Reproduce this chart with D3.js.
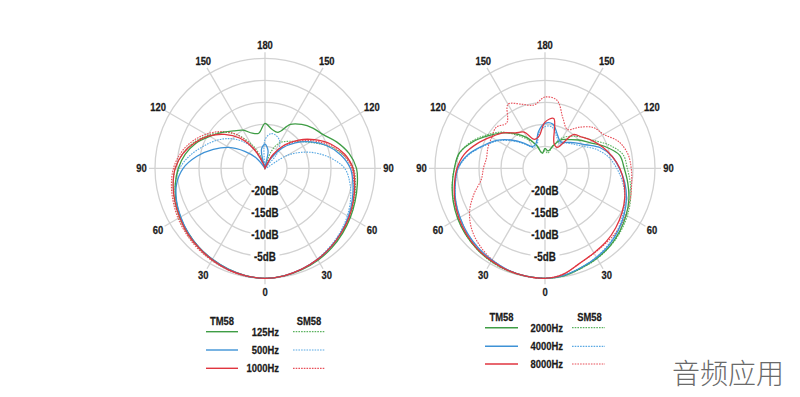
<!DOCTYPE html>
<html><head><meta charset="utf-8">
<script src="https://cdn.jsdelivr.net/npm/d3@7"></script>
<style>body{margin:0;background:#fff}svg{display:block}</style>
</head><body><svg id="c" width="800" height="397"></svg>
<script>
// ---- data ----
const angles = [0,10,20,30,40,50,60,70,80,90,100,110,120,130,140,150,160,170,180,190,200,210,220,230,240,250,260,270,280,290,300,310,320,330,340,350];
const ringDb = [-20,-15,-10,-5,0];
const ringLabels = ["-20dB","-15dB","-10dB","-5dB"];
const spokeAngles = [0,30,60,90,120,150,180,210,240,270,300,330];
const spokeLabels = ["0","30","60","90","120","150","180","150","120","90","60","30"];
const leftFreqs = ["125Hz","500Hz","1000Hz"];
const rightFreqs = ["2000Hz","4000Hz","8000Hz"];
const mics = ["TM58","SM58"];

// left chart (dB at each angle)
const tm58_125 = [0,-0.2,-0.5,-0.9,-1.4,-2.0,-2.6,-3.2,-3.7,-4.2,-5.6,-7.6,-9.7,-10.8,-12.0,-13.5,-16.3,-16.0,-14.8,-16.9,-16.5,-15.0,-13.9,-12.3,-10.5,-8.3,-6.6,-5.3,-4.3,-3.5,-2.8,-2.2,-1.6,-1.1,-0.6,-0.2];
const tm58_500 = [0,-0.2,-0.6,-1.1,-1.7,-2.4,-3.1,-3.9,-4.7,-5.6,-7.5,-10,-13,-16,-19,-22.5,-25,-21,-19.5,-20.5,-25,-25,-22,-19,-15.5,-12.5,-9.3,-6.4,-4.6,-3.6,-2.9,-2.2,-1.6,-1.1,-0.6,-0.2];
const tm58_1000 = [0,-0.2,-0.6,-1.1,-1.7,-2.3,-2.9,-3.6,-4.3,-5.0,-6.6,-9.0,-12.0,-15.0,-18.0,-21.5,-25,-25,-25,-25,-24,-20,-16,-13,-10.3,-8.0,-6.0,-4.6,-3.8,-3.2,-2.6,-2.0,-1.5,-1.0,-0.5,-0.2];
const sm58_125 = [0,-0.2,-0.6,-1.1,-1.6,-2.2,-2.8,-3.4,-4.1,-4.9,-7.0,-10.0,-13.2,-15.5,-17.0,-18.3,-21,-25,-25,-25,-22,-18.5,-15,-12.3,-10,-7.8,-6,-4.6,-3.8,-3.1,-2.5,-1.9,-1.4,-0.9,-0.5,-0.2];
const sm58_500 = [0,-0.2,-0.6,-1.2,-1.9,-2.6,-3.4,-4.3,-5.4,-6.9,-10.3,-14.3,-19,-25,-21,-18.2,-17.2,-17.0,-18.5,-25,-25,-20,-17,-14.5,-12.3,-10.2,-7.8,-5.6,-4.3,-3.5,-2.8,-2.2,-1.6,-1.0,-0.5,-0.2];
const sm58_1000 = [0,-0.2,-0.6,-1.1,-1.7,-2.3,-3.0,-3.7,-4.5,-5.3,-7.0,-9.5,-12.5,-15.5,-18.5,-22,-25,-25,-25,-25,-23,-19.5,-15.0,-12.0,-9.5,-7.3,-5.5,-4.2,-3.4,-2.8,-2.2,-1.7,-1.2,-0.8,-0.4,-0.1];

// right chart
const tm58_2000 = [0,-0.2,-0.9,-1.4,-2.0,-2.8,-3.7,-4.7,-5.9,-7.0,-7.8,-10.5,-13.3,-15.0,-16.5,-17.5,-19.5,-21,-20.5,-21.5,-19.5,-17,-14.8,-12.5,-10.2,-7.5,-5.2,-4.4,-3.6,-2.8,-2.1,-1.5,-1.0,-0.6,-0.3,-0.1];
const tm58_4000 = [0,-0.3,-1.0,-1.6,-2.3,-3.2,-4.2,-5.3,-6.6,-8.1,-9.5,-11.5,-14.3,-16.0,-17.3,-18.0,-16.8,-14.8,-14.8,-16.5,-19.0,-19.3,-17.5,-15.0,-12.3,-10.0,-7.2,-5.2,-4.3,-3.4,-2.7,-2.0,-1.4,-0.9,-0.4,-0.1];
const tm58_8000 = [0,-0.6,-2.0,-2.8,-3.3,-4.0,-4.8,-5.7,-6.8,-8.0,-9.5,-11.0,-12.5,-14.0,-15.0,-19.5,-19.0,-13.5,-14.5,-17.5,-18.0,-15.5,-14.5,-12.5,-10.8,-8.6,-6.4,-5.0,-4.1,-3.2,-2.4,-1.7,-1.1,-0.7,-0.3,-0.1];
const sm58_2000 = [0,-0.2,-0.8,-1.3,-1.9,-2.6,-3.4,-4.3,-5.3,-6.3,-7.0,-9.5,-12.3,-14.0,-15.5,-17.0,-19.5,-21.5,-21,-21.5,-19.5,-17.5,-15.2,-12.2,-9.8,-7.2,-5.3,-4.4,-3.6,-2.9,-2.2,-1.5,-1.0,-0.5,-0.2,-0.1];
const sm58_4000 = [0,-0.3,-1.0,-1.7,-2.5,-3.4,-4.5,-5.7,-7.1,-8.7,-10.3,-12.5,-15.0,-16.5,-17.5,-18.5,-17.3,-15.5,-15.5,-17.0,-19.5,-19.5,-17.8,-15.3,-12.6,-10.2,-7.4,-5.3,-4.3,-3.4,-2.7,-2.0,-1.4,-0.9,-0.4,-0.1];
const sm58_8000 = [0,-0.6,-2.0,-2.7,-3.1,-3.3,-3.8,-4.4,-5.0,-5.4,-5.9,-7.2,-9.6,-10.6,-12.8,-14.8,-13.0,-9.3,-8.8,-10.4,-9.5,-8.2,-11.5,-10.5,-11.0,-11.2,-11.5,-11.0,-10.3,-7.8,-5.2,-3.3,-2.0,-1.0,-0.4,-0.1];

const colors = ["#3f9d45","#3e92d6","#e0353f"];
const dotColors = ["#5bb25f","#5aa9e3","#e8505a"];

// ---- drawing ----
const svg = d3.select("#c");
const rScale = d3.scaleLinear().domain([-25,0]).range([0,110]).clamp(true);
const rad = a => a*Math.PI/180;
const polar = (r,a) => [r*Math.sin(rad(a)), r*Math.cos(rad(a))];
const fontNum = "'Liberation Sans',Arial,sans-serif";
const SX = 0.82;

function label(sel, x, y, str, size, anchor, dy) {
  return sel.append("text")
    .attr("transform", `translate(${x},${y}) scale(${SX},1)`)
    .attr("text-anchor", anchor).attr("dy", dy || 0)
    .attr("font-family", fontNum).attr("font-weight", "bold").attr("font-size", size)
    .attr("fill", "#1a1a1a").attr("stroke", "#1a1a1a").attr("stroke-width", 0.25).text(str);
}

const charts = [
  {cx:265, cy:168.3, freqs:leftFreqs, tm:[tm58_125,tm58_500,tm58_1000], sm:[sm58_125,sm58_500,sm58_1000],
   leg:{tmx:222, smx:309, head:325, lines:[331.7,350,368.3], l1:[206,238], l2:[293,325], tx:279}},
  {cx:545, cy:168.3, freqs:rightFreqs, tm:[tm58_2000,tm58_4000,tm58_8000], sm:[sm58_2000,sm58_4000,sm58_8000],
   leg:{tmx:501.5, smx:589.5, head:320.7, lines:[327.7,346.3,364], l1:[485,518], l2:[572,605], tx:563}}
];

const line = d3.lineRadial()
  .angle((d,i) => Math.PI - rad(angles[i]))
  .radius(d => rScale(d))
  .curve(d3.curveCatmullRomClosed.alpha(0.5));

charts.forEach(ch => {
  const g = svg.append("g").attr("transform", `translate(${ch.cx},${ch.cy})`);
  g.selectAll("circle.ring").data(ringDb).enter().append("circle")
    .attr("r", d => rScale(d)).attr("fill","none").attr("stroke","#d2d2d2").attr("stroke-width",1.3);
  g.selectAll("line.spoke").data(spokeAngles).enter().append("line")
    .attr("x1", d => polar(rScale(-20), d)[0]).attr("y1", d => polar(rScale(-20), d)[1])
    .attr("x2", d => polar(116, d)[0]).attr("y2", d => polar(116, d)[1])
    .attr("stroke","#d2d2d2").attr("stroke-width",1.3);
  spokeAngles.forEach((a,i) => {
    const p = polar(123.5, a);
    label(g, p[0], p[1], spokeLabels[i], 11.5, "middle", "0.36em");
  });

  // curves
  [0,1,2].forEach(k => {
    g.append("path").attr("d", line(ch.sm[k])).attr("fill","none")
      .attr("stroke", dotColors[k]).attr("stroke-width",1.1).attr("stroke-dasharray","1.6,1.1");
  });
  [0,1,2].forEach(k => {
    g.append("path").attr("d", line(ch.tm[k])).attr("fill","none")
      .attr("stroke", colors[k]).attr("stroke-width",1.3);
  });

  // dB labels
  ringLabels.forEach((t,i) => {
    const y = rScale(ringDb[i]);
    g.append("rect").attr("x",-14.5).attr("y",y-5.5).attr("width",29).attr("height",11).attr("fill","#fff");
    label(g, 0, y, t, 12, "middle", "0.36em");
  });

  // legend
  const L = ch.leg;
  const lg = svg.append("g");
  label(lg, L.tmx, L.head, mics[0], 11.5, "middle");
  label(lg, L.smx, L.head, mics[1], 11.5, "middle");
  ch.freqs.forEach((f,k) => {
    const y = L.lines[k];
    lg.append("line").attr("x1",L.l1[0]).attr("x2",L.l1[1]).attr("y1",y).attr("y2",y)
      .attr("stroke",colors[k]).attr("stroke-width",1.4);
    lg.append("line").attr("x1",L.l2[0]).attr("x2",L.l2[1]).attr("y1",y).attr("y2",y)
      .attr("stroke",dotColors[k]).attr("stroke-width",1.2).attr("stroke-dasharray","1.6,1.1");
    label(lg, L.tx, y+4, f, 11.5, "end");
  });
});

// watermark
svg.append("text").attr("x",672).attr("y",384)
  .attr("font-family","'Noto Sans CJK SC',sans-serif").attr("font-weight",300).attr("font-size",28)
  .attr("fill","#6a6a6a").text("音频应用");
</script></body></html>
